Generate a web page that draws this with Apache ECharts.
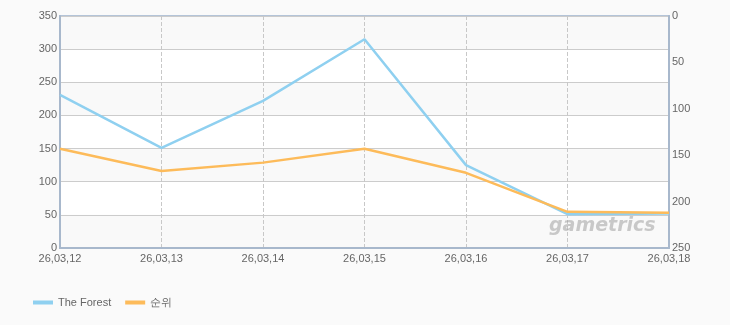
<!DOCTYPE html>
<html><head><meta charset="utf-8">
<script src="https://cdn.jsdelivr.net/npm/echarts@6/dist/echarts.min.js"></script>
<style>html,body{margin:0;padding:0;background:#fafafa}#c{width:730px;height:325px}</style>
</head><body><div id="c"></div>
<script>
const categories = ['26,03,12','26,03,13','26,03,14','26,03,15','26,03,16','26,03,17','26,03,18'];
const forestValues = [231, 151, 222, 315, 125, 51, 52];
const rankValues = [143, 167, 158, 143, 169, 211, 212];
const leftTicks = [0, 350, 50];
const rightTicks = [0, 250, 50];
const seriesNames = ['The Forest', '순위'];

const chart = echarts.init(document.getElementById('c'), null, {renderer: 'canvas'});
const font = 'Liberation Sans, Arial, sans-serif';
chart.setOption({
  backgroundColor: '#fafafa',
  animation: false,
  textStyle: {fontFamily: font},
  grid: {left: 60, right: 61, top: 16, bottom: 77, show: true, backgroundColor: 'transparent', borderColor: '#b4c4d8', borderWidth: 2},
  legend: {
    left: 28, top: 292, itemWidth: 20, itemHeight: 4, itemGap: 14,
    icon: 'rect',
    textStyle: {color: '#666', fontSize: 11, fontFamily: font},
    data: seriesNames
  },
  xAxis: {
    type: 'category', data: categories, boundaryGap: false,
    axisLine: {lineStyle: {color: '#a8b8cc', width: 2}},
    axisTick: {show: false},
    axisLabel: {color: '#666', fontSize: 11, margin: 5, fontFamily: font, showMinLabel: true, showMaxLabel: true, interval: 0},
    splitLine: {show: true, lineStyle: {color: '#c8c8c8', type: 'dashed', width: 1}}
  },
  yAxis: [{
    type: 'value', min: leftTicks[0], max: leftTicks[1], interval: leftTicks[2],
    axisLine: {show: true, lineStyle: {color: '#a8b8cc', width: 2}},
    axisTick: {show: false},
    axisLabel: {color: '#666', fontSize: 11, margin: 3, fontFamily: font},
    splitLine: {show: true, lineStyle: {color: '#cccccc', width: 1}},
    splitArea: {show: true, areaStyle: {color: ['#f9f9f9', '#ffffff']}}
  }, {
    type: 'value', min: rightTicks[0], max: rightTicks[1], interval: rightTicks[2], inverse: true,
    position: 'right',
    axisLine: {show: true, lineStyle: {color: '#a8b8cc', width: 2}},
    axisTick: {show: false},
    axisLabel: {color: '#666', fontSize: 11, margin: 3, fontFamily: font},
    splitLine: {show: false}
  }],
  graphic: [{
    type: 'text', left: 549, top: 217, z: 100, silent: true,
    style: {text: 'gametrics', fill: 'rgba(160,160,160,0.55)', font: 'italic bold 19px "DejaVu Sans", sans-serif'}
  }],
  series: [{
    name: seriesNames[0], type: 'line', yAxisIndex: 0, data: forestValues,
    showSymbol: false, symbol: 'none', color: '#8fd0f0',
    lineStyle: {width: 2.5, color: '#8fd0f0'}
  }, {
    name: seriesNames[1], type: 'line', yAxisIndex: 1, data: rankValues,
    showSymbol: false, symbol: 'none', color: '#fdbb5a',
    lineStyle: {width: 2.5, color: '#fdbb5a'}
  }]
});
</script></body></html>
